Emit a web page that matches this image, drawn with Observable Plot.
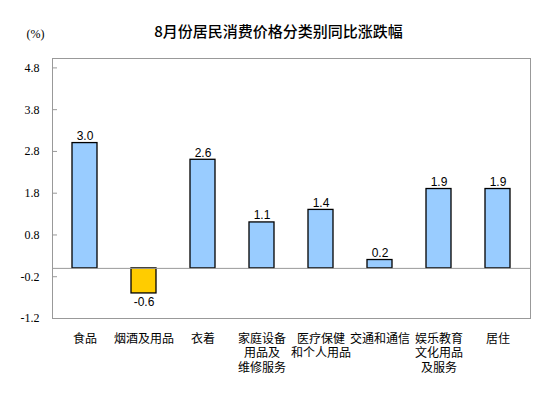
<!DOCTYPE html>
<html>
<head>
<meta charset="utf-8">
<script src="https://cdn.jsdelivr.net/npm/d3@7"></script>
<script src="https://cdn.jsdelivr.net/npm/@observablehq/plot@0.6"></script>
<style>
  html, body { margin: 0; padding: 0; background: #fff; }
</style>
</head>
<body>
<div id="chart"></div>
<script>
const title = "8月份居民消费价格分类别同比涨跌幅";
const unitLabel = "(%)";
const categories = ["食品", "烟酒及用品", "衣着", "家庭设备用品及维修服务", "医疗保健和个人用品", "交通和通信", "娱乐教育文化用品及服务", "居住"];
const categoryLabels = ["食品", "烟酒及用品", "衣着", "家庭设备\n用品及\n维修服务", "医疗保健\n和个人用品", "交通和通信", "娱乐教育\n文化用品\n及服务", "居住"];
const values = [3.0, -0.6, 2.6, 1.1, 1.4, 0.2, 1.9, 1.9];
const valueLabels = ["3.0", "-0.6", "2.6", "1.1", "1.4", "0.2", "1.9", "1.9"];
const yTicks = [-1.2, -0.2, 0.8, 1.8, 2.8, 3.8, 4.8];
const yTickLabels = ["-1.2", "-0.2", "0.8", "1.8", "2.8", "3.8", "4.8"];

const data = categories.map((c, i) => ({
  category: c, label: categoryLabels[i], value: values[i], text: valueLabels[i]
}));
const pos = data.filter(d => d.value >= 0);
const neg = data.filter(d => d.value < 0);
const tickData = yTicks.map((t, i) => ({t, label: yTickLabels[i]}));

const cjk = "'Noto Sans CJK SC', sans-serif";

const chart = Plot.plot({
  width: 553,
  height: 398,
  marginLeft: 52,
  marginRight: 23,
  marginTop: 58,
  marginBottom: 80,
  style: {background: "#fff", overflow: "visible"},
  x: {domain: categories, type: "band", paddingInner: 0.58, paddingOuter: 0.29, axis: null},
  y: {domain: [-1.2, 5.025], axis: null},
  marks: [
    Plot.frame({stroke: "#999", strokeWidth: 1}),
    Plot.ruleY(yTicks, {stroke: "#999", insetRight: 473}),
    Plot.text(tickData, {
      y: "t", text: "label", frameAnchor: "left", textAnchor: "end", dx: -13,
      fontFamily: "'Liberation Serif', serif", fontSize: 12, fill: "#000"
    }),
    Plot.barY(data, {
      x: "category", y: "value",
      fill: d => d.value >= 0 ? "#99CCFF" : "#FFCC00",
      stroke: "#000", strokeWidth: 1.3
    }),
    Plot.ruleY([0], {stroke: "#999", strokeWidth: 1}),
    Plot.text(pos, {
      x: "category", y: "value", text: "text", lineAnchor: "bottom", dy: -3,
      fontFamily: "'Liberation Sans', Arial, sans-serif", fontSize: 12, fill: "#000"
    }),
    Plot.text(neg, {
      x: "category", y: "value", text: "text", lineAnchor: "top", dy: 4,
      fontFamily: "'Liberation Sans', Arial, sans-serif", fontSize: 12, fill: "#000"
    }),
    Plot.text(data, {
      x: "category", text: "label", frameAnchor: "bottom", lineAnchor: "top", dy: 14,
      lineHeight: 1.2, fontFamily: cjk, fontSize: 12, fill: "#000"
    }),
    Plot.text([title], {
      frameAnchor: "top", dx: -13, dy: -26, lineAnchor: "middle",
      fontFamily: cjk, fontSize: 15, fontWeight: 500, fill: "#000"
    }),
    Plot.text([unitLabel], {
      frameAnchor: "top-left", dx: -26, dy: -24, lineAnchor: "middle", textAnchor: "start",
      fontFamily: "'Liberation Serif', serif", fontSize: 12, fill: "#000"
    })
  ]
});
document.getElementById("chart").appendChild(chart);
</script>
</body>
</html>
